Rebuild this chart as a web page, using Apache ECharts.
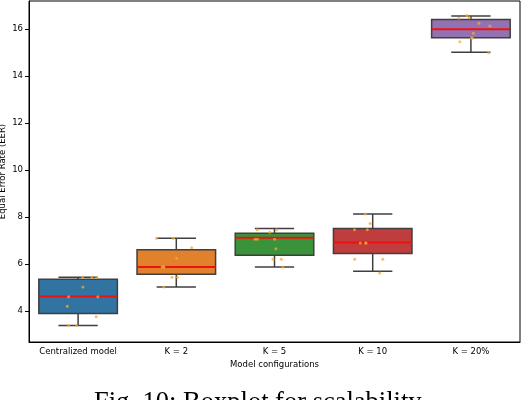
<!DOCTYPE html>
<html><head><meta charset="utf-8">
<script src="https://cdn.jsdelivr.net/npm/echarts@6/dist/echarts.min.js"></script>
<style>html,body{margin:0;padding:0;background:#fff}#c{width:526px;height:400px}</style>
</head><body><div id="c"></div>
<script>
const categories = ['Centralized model', 'K = 2', 'K = 5', 'K = 10', 'K = 20%'];
// [low whisker, Q1, median, Q3, high whisker]
const boxStats = [
  [3.38, 3.89, 4.62, 5.35, 5.44],
  [5.02, 5.57, 5.87, 6.61, 7.10],
  [5.87, 6.37, 7.12, 7.31, 7.51],
  [5.69, 6.45, 6.92, 7.51, 8.13],
  [15.02, 15.64, 16.00, 16.41, 16.56]
];
const boxColors = ['#3274a1', '#e1812c', '#3a923a', '#c03d3e', '#9372b2'];
const pointsCentral = [5.43, 5.43, 5.43, 5.02, 4.61, 4.61, 4.20, 3.76, 3.38, 3.38];
const pointsK2 = [7.10, 7.10, 6.25, 5.87, 5.87, 6.69, 5.44, 5.44, 5.02, 5.87];
const pointsK5 = [7.35, 7.46, 7.46, 7.06, 7.06, 7.06, 6.65, 6.20, 6.20, 5.87];
const pointsK10 = [8.13, 7.73, 7.46, 7.46, 6.90, 6.90, 6.90, 6.20, 6.20, 5.62];
const pointsK20 = [16.49, 16.58, 16.47, 16.25, 16.14, 15.83, 15.62, 15.62, 15.47, 15.00];
const yTicks = [4, 6, 8, 10, 12, 14, 16];

const allPoints = [pointsCentral, pointsK2, pointsK5, pointsK10, pointsK20];
const scatterData = [];
allPoints.forEach((arr, i) => arr.forEach(v => scatterData.push([i, v])));
const boxData = boxStats.map((s, i) => [i].concat(s));

const font = 'DejaVu Sans';
const chart = echarts.init(document.getElementById('c'), null, {renderer: 'canvas'});
chart.setOption({
  animation: false,
  grid: {left: 29, right: 6, top: 1, bottom: 58, show: true, borderColor: '#000', borderWidth: 1,
    containLabel: false, outerBoundsMode: 'none'},
  xAxis: {
    type: 'category', data: categories, boundaryGap: true,
    jitter: 40, jitterOverlap: true,
    name: 'Model configurations', nameLocation: 'middle', nameGap: 18, nameMoveOverlap: false,
    nameTextStyle: {fontFamily: font, fontSize: 8.5, color: '#000'},
    axisLine: {lineStyle: {color: '#000', width: 1}},
    axisTick: {alignWithLabel: true, length: 4, lineStyle: {color: '#000'}},
    axisLabel: {fontFamily: font, fontSize: 8.5, color: '#000', margin: 5, interval: 0},
    splitLine: {show: false}
  },
  yAxis: {
    type: 'value', min: 2.68, max: 17.2,
    name: 'Equal Error Rate (EER)', nameLocation: 'middle', nameGap: 22, nameMoveOverlap: false,
    nameTextStyle: {fontFamily: font, fontSize: 8.5, color: '#000'},
    axisLine: {show: true, lineStyle: {color: '#000', width: 1}},
    axisTick: {show: true, length: 4, customValues: yTicks, lineStyle: {color: '#000'}},
    axisLabel: {fontFamily: font, fontSize: 8.5, color: '#000', margin: 6, customValues: yTicks},
    splitLine: {show: false}
  },
  series: [
    {
      type: 'custom',
      data: boxData,
      encode: {x: 0, y: [1, 2, 3, 4, 5]},
      z: 2,
      renderItem: function (params, api) {
        const idx = api.value(0);
        const pLow = api.coord([idx, api.value(1)]);
        const pQ1 = api.coord([idx, api.value(2)]);
        const pMed = api.coord([idx, api.value(3)]);
        const pQ3 = api.coord([idx, api.value(4)]);
        const pHigh = api.coord([idx, api.value(5)]);
        const band = api.size([1, 0])[0];
        const bw = band * 0.8;
        const cw = bw / 2;
        const cx = pMed[0];
        const edge = '#3f3f3f';
        const lw = 1.5;
        return {
          type: 'group',
          children: [
            {type: 'line', shape: {x1: cx, y1: pLow[1], x2: cx, y2: pQ1[1]}, style: {stroke: edge, lineWidth: lw}},
            {type: 'line', shape: {x1: cx, y1: pQ3[1], x2: cx, y2: pHigh[1]}, style: {stroke: edge, lineWidth: lw}},
            {type: 'line', shape: {x1: cx - cw / 2, y1: pLow[1], x2: cx + cw / 2, y2: pLow[1]}, style: {stroke: edge, lineWidth: lw}},
            {type: 'line', shape: {x1: cx - cw / 2, y1: pHigh[1], x2: cx + cw / 2, y2: pHigh[1]}, style: {stroke: edge, lineWidth: lw}},
            {type: 'rect', shape: {x: cx - bw / 2, y: pQ3[1], width: bw, height: pQ1[1] - pQ3[1]},
              style: {fill: boxColors[idx], stroke: edge, lineWidth: lw}},
            {type: 'line', shape: {x1: cx - bw / 2, y1: pMed[1], x2: cx + bw / 2, y2: pMed[1]}, style: {stroke: '#ee1111', lineWidth: 2}}
          ]
        };
      }
    },
    {
      type: 'scatter',
      data: scatterData,
      symbolSize: 3,
      z: 3,
      itemStyle: {color: '#f7a830', opacity: 0.75}
    }
  ],
  graphic: [{
    type: 'text', left: 94, top: 390,
    style: {text: 'Fig. 10: Boxplot for scalability', font: '26.5px "Liberation Serif"', fill: '#000'}
  }]
});
</script></body></html>
